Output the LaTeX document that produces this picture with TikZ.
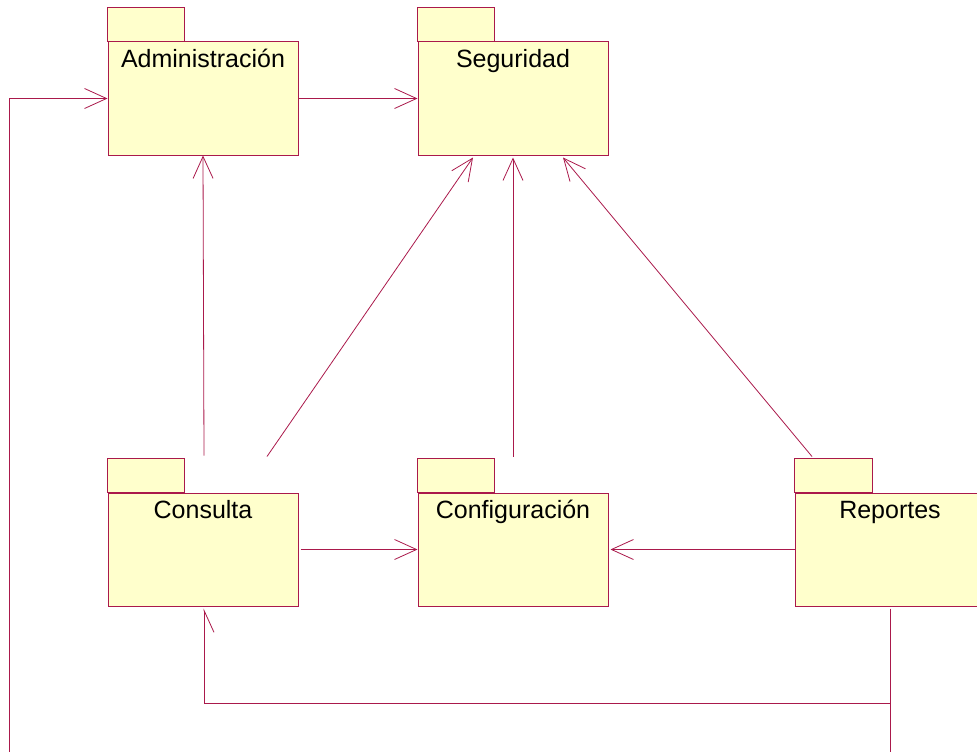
\documentclass[tikz,border=0pt]{standalone}
\usepackage{fontspec}
\setmainfont{Liberation Sans}
\usepackage{tikz}
\usetikzlibrary{arrows.meta}
\usepackage{xcolor}
\definecolor{pkgline}{RGB}{170,25,75}
\definecolor{pkgfill}{RGB}{255,255,204}

\tikzset{
  pkg/.style={draw=pkgline, fill=pkgfill, line width=1pt},
  pkgbody/.style={pkg, minimum width=190pt, minimum height=113pt, inner sep=0pt},
  pkgname/.style={anchor=base, font=\fontsize{25}{29}\selectfont},
  dep/.style={draw=pkgline, line width=0.8pt, -{Straight Barb[length=22pt,width=20pt]}},
  halfdep/.style={draw=pkgline, line width=0.8pt, -{Straight Barb[length=22pt,width=20pt,harpoon,swap]}},
  plain/.style={draw=pkgline, line width=0.8pt}
}

\begin{document}
\begin{tikzpicture}[x=1pt,y=-1pt]
		\useasboundingbox (0,0) rectangle (977,752);
		% top row
		\node[pkgbody] (adm) at (203,98.5) {};
		\draw[pkg] (adm.north west) rectangle ++(77,-34);
		\node[pkgname] (adm-name) at ([yshift=-26pt]adm.north) {Administración};
		\node[pkgbody] (seg) at (513,98.5) {};
		\draw[pkg] (seg.north west) rectangle ++(77,-34);
		\node[pkgname] (seg-name) at ([yshift=-26pt]seg.north) {Seguridad};
		% bottom row
		\node[pkgbody] (con) at (203,549.5) {};
		\draw[pkg] (con.north west) rectangle ++(77,-34);
		\node[pkgname] (con-name) at ([yshift=-26pt]con.north) {Consulta};
		\node[pkgbody] (conf) at (513,549.5) {};
		\draw[pkg] (conf.north west) rectangle ++(77,-34);
		\node[pkgname] (conf-name) at ([yshift=-26pt]conf.north) {Configuración};
		\node[pkgbody] (rep) at (890,549.5) {};
		\draw[pkg] (rep.north west) rectangle ++(78,-34);
		\node[pkgname] (rep-name) at ([yshift=-26pt]rep.north) {Reportes};
		% dependencies
		\coordinate (left-end) at (9,752);
		\coordinate (rep-end) at (890,752);
		\coordinate (rep-bend) at (890,703);
		\draw[dep] (left-end) |- (adm.west);
		\draw[dep] (adm.east) -- (seg.west);
		\draw[dep] ([xshift=1pt,yshift=37pt]con.north) -- (adm.south);
		\draw[dep] ([xshift=64pt,yshift=36pt]con.north) -- ([xshift=-40pt,yshift=-2pt]seg.south);
		\draw[dep] ([yshift=36pt]conf.north) -- ([yshift=-2pt]seg.south);
		\draw[dep] ([xshift=-78pt,yshift=36pt]rep.north) -- ([xshift=50pt,yshift=-2pt]seg.south);
		\draw[dep] ([xshift=2pt]con.east) -- (conf.west);
		\draw[dep] (rep.west) -- ([xshift=2pt]conf.east);
		\draw[plain] ([yshift=-2pt]rep.south) -- (rep-end);
		\draw[halfdep] (rep-bend) -| ([xshift=1pt,yshift=-2pt]con.south);
	\end{tikzpicture}
\end{document}
